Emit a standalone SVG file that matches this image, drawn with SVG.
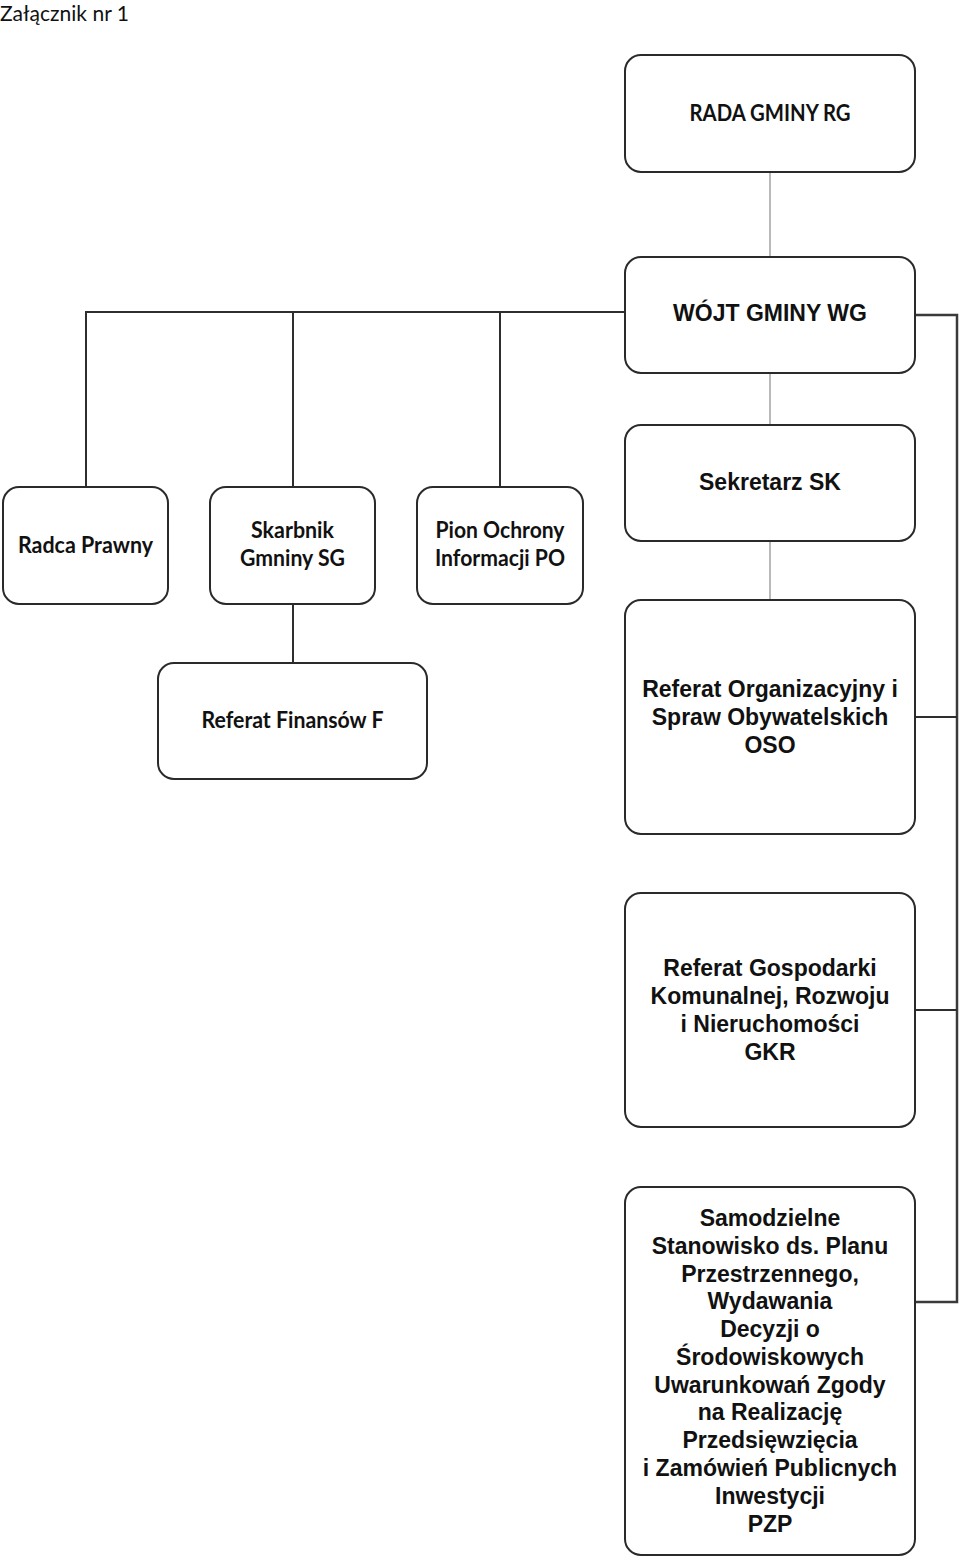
<svg xmlns="http://www.w3.org/2000/svg" width="960" height="1560" viewBox="0 0 960 1560">
<style>
.box{fill:#fff;stroke:#2a2a2a;stroke-width:2}
.cal{font-family:Lato,"Open Sans","Liberation Sans",sans-serif;font-weight:bold;font-size:22px;fill:#111;text-anchor:middle}
.ari{font-family:"Liberation Sans",Arial,sans-serif;font-weight:bold;font-size:23px;fill:#111;text-anchor:middle}
.thin{stroke:#8a8a8a;stroke-width:1.2;fill:none}
.link{stroke:#2e2e2e;stroke-width:2;fill:none}
.bus{stroke:#3a3a3a;stroke-width:2.5;fill:none}
</style>
<rect width="960" height="1560" fill="#fff"/>
<text x="0" y="21" font-family="Lato,'Open Sans',sans-serif" font-size="22" fill="#111" textLength="129" lengthAdjust="spacingAndGlyphs">Załącznik nr 1</text>
<g id="connectors">
  <line class="thin" x1="770" y1="172" x2="770" y2="257"/>
  <line class="thin" x1="770" y1="373" x2="770" y2="425"/>
  <line class="thin" x1="770" y1="541" x2="770" y2="600"/>
  <polyline class="link" points="625,312 86,312 86,487"/>
  <line class="link" x1="293" y1="312" x2="293" y2="487"/>
  <line class="link" x1="500" y1="312" x2="500" y2="487"/>
  <line class="link" x1="293" y1="604" x2="293" y2="663"/>
  <polyline class="bus" points="915,315 957,315 957,1302 915,1302"/>
  <line class="link" x1="915" y1="717" x2="957" y2="717"/>
  <line class="link" x1="915" y1="1010" x2="957" y2="1010"/>
</g>
<g id="rada">
  <rect class="box" x="625" y="55" width="290" height="117" rx="16"/>
  <text class="cal" x="770" y="121" textLength="161" lengthAdjust="spacingAndGlyphs">RADA GMINY RG</text>
</g>
<g id="wojt">
  <rect class="box" x="625" y="257" width="290" height="116" rx="16"/>
  <text class="ari" x="770" y="321">WÓJT GMINY WG</text>
</g>
<g id="sekretarz">
  <rect class="box" x="625" y="425" width="290" height="116" rx="16"/>
  <text class="ari" x="770" y="490">Sekretarz SK</text>
</g>
<g id="radca">
  <rect class="box" x="3" y="487" width="165" height="117" rx="16"/>
  <text class="cal" x="85.5" y="553" textLength="135" lengthAdjust="spacingAndGlyphs">Radca Prawny</text>
</g>
<g id="skarbnik">
  <rect class="box" x="210" y="487" width="165" height="117" rx="16"/>
  <text class="cal" x="292.5" y="538" textLength="83" lengthAdjust="spacingAndGlyphs">Skarbnik</text>
  <text class="cal" x="292.5" y="566" textLength="105" lengthAdjust="spacingAndGlyphs">Gmniny SG</text>
</g>
<g id="pion">
  <rect class="box" x="417" y="487" width="166" height="117" rx="16"/>
  <text class="cal" x="500" y="538" textLength="129" lengthAdjust="spacingAndGlyphs">Pion Ochrony</text>
  <text class="cal" x="500" y="566" textLength="130" lengthAdjust="spacingAndGlyphs">Informacji PO</text>
</g>
<g id="finanse">
  <rect class="box" x="158" y="663" width="269" height="116" rx="16"/>
  <text class="cal" x="292.5" y="728" textLength="182" lengthAdjust="spacingAndGlyphs">Referat Finansów F</text>
</g>
<g id="oso">
  <rect class="box" x="625" y="600" width="290" height="234" rx="16"/>
  <text class="ari" x="770" y="697">Referat Organizacyjny i</text>
  <text class="ari" x="770" y="725">Spraw Obywatelskich</text>
  <text class="ari" x="770" y="753">OSO</text>
</g>
<g id="gkr">
  <rect class="box" x="625" y="893" width="290" height="234" rx="16"/>
  <text class="ari" x="770" y="976">Referat Gospodarki</text>
  <text class="ari" x="770" y="1004">Komunalnej, Rozwoju</text>
  <text class="ari" x="770" y="1032">i Nieruchomości</text>
  <text class="ari" x="770" y="1060">GKR</text>
</g>
<g id="pzp">
  <rect class="box" x="625" y="1187" width="290" height="368" rx="16"/>
  <text class="ari" x="770" y="1226">Samodzielne</text>
  <text class="ari" x="770" y="1254">Stanowisko ds. Planu</text>
  <text class="ari" x="770" y="1282">Przestrzennego,</text>
  <text class="ari" x="770" y="1309">Wydawania</text>
  <text class="ari" x="770" y="1337">Decyzji o</text>
  <text class="ari" x="770" y="1365">Środowiskowych</text>
  <text class="ari" x="770" y="1393">Uwarunkowań Zgody</text>
  <text class="ari" x="770" y="1420">na Realizację</text>
  <text class="ari" x="770" y="1448">Przedsięwzięcia</text>
  <text class="ari" x="770" y="1476">i Zamówień Publicnych</text>
  <text class="ari" x="770" y="1504">Inwestycji</text>
  <text class="ari" x="770" y="1532">PZP</text>
</g>
</svg>
